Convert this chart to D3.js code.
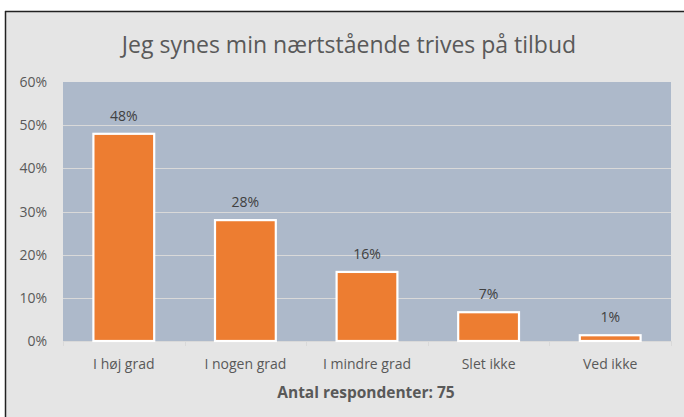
<!DOCTYPE html>
<html>
<head>
<meta charset="utf-8">
<script src="https://cdn.jsdelivr.net/npm/d3@7"></script>
<style>
  html, body { margin: 0; padding: 0; background: #fff; }
  svg { display: block; }
</style>
</head>
<body>
<div id="chart"></div>
<script>
// Data
const title = "Jeg synes min nærtstående trives på tilbud";
const footer = "Antal respondenter: 75";
const categories = ["I høj grad", "I nogen grad", "I mindre grad", "Slet ikke", "Ved ikke"];
const counts = [36, 21, 12, 5, 1];
const totalRespondents = 75;
const yTicks = [0, 0.1, 0.2, 0.3, 0.4, 0.5, 0.6];

const W = 684, H = 417;
const margin = { top: 82, right: 13, bottom: 76, left: 63 };
const width = W - margin.left - margin.right;
const height = H - margin.top - margin.bottom;

const svg = d3.select("#chart").append("svg")
    .attr("width", W)
    .attr("height", H);

// Frame / background
svg.append("rect")
    .attr("x", 5).attr("y", 11)
    .attr("width", W - 5).attr("height", H - 11)
    .attr("fill", "#e5e5e5");
svg.append("line")
    .attr("x1", 5.5).attr("x2", 5.5).attr("y1", 11).attr("y2", H)
    .attr("stroke", "#222").attr("stroke-width", 1.5);
svg.append("line")
    .attr("x1", 5).attr("x2", W).attr("y1", 11.5).attr("y2", 11.5)
    .attr("stroke", "#222").attr("stroke-width", 1.5);

svg.append("text")
    .attr("x", 349).attr("y", 53)
    .attr("text-anchor", "middle")
    .attr("font-family", "Open Sans, sans-serif")
    .attr("font-size", 23)
    .attr("fill", "#595959")
    .text(title);

const g = svg.append("g")
    .attr("transform", `translate(${margin.left},${margin.top})`);

const x = d3.scaleBand()
    .domain(categories)
    .range([0, width])
    .paddingInner(0.5)
    .paddingOuter(0.25);

const y = d3.scaleLinear()
    .domain([0, 0.6])
    .range([height, 0]);

// Plot area
g.append("rect")
    .attr("width", width)
    .attr("height", height)
    .attr("fill", "#adb9ca");

// Grid
g.selectAll(".grid")
    .data(yTicks.filter(d => d > 0 && d < 0.6))
    .enter().append("line")
    .attr("x1", 0).attr("x2", width)
    .attr("y1", d => Math.round(y(d)) + 0.5)
    .attr("y2", d => Math.round(y(d)) + 0.5)
    .attr("stroke", "#d9d9d9")
    .attr("stroke-width", 1.2);

// Y axis labels
g.selectAll(".ylab")
    .data(yTicks)
    .enter().append("text")
    .attr("x", -16)
    .attr("y", d => y(d) + 5)
    .attr("text-anchor", "end")
    .attr("font-family", "Open Sans, sans-serif")
    .attr("font-size", 14)
    .attr("fill", "#595959")
    .text(d3.format(".0%"));

// X axis line & ticks at category boundaries
g.append("line")
    .attr("x1", 0).attr("x2", width)
    .attr("y1", height + 0.5).attr("y2", height + 0.5)
    .attr("stroke", "#d9d9d9");
g.selectAll(".xtick")
    .data(d3.range(categories.length + 1))
    .enter().append("line")
    .attr("x1", i => Math.round(i * width / categories.length) + 0.5)
    .attr("x2", i => Math.round(i * width / categories.length) + 0.5)
    .attr("y1", height).attr("y2", height + 5)
    .attr("stroke", "#d9d9d9");

const pct = counts.map(c => c / totalRespondents);

// Bars
g.selectAll(".bar")
    .data(pct)
    .enter().append("rect")
    .attr("x", (d, i) => x(categories[i]))
    .attr("y", d => y(d))
    .attr("width", x.bandwidth())
    .attr("height", d => height - y(d))
    .attr("fill", "#ed7d31")
    .attr("stroke", "#fff")
    .attr("stroke-width", 2.2);

// Value labels
g.selectAll(".vlab")
    .data(pct)
    .enter().append("text")
    .attr("x", (d, i) => x(categories[i]) + x.bandwidth() / 2)
    .attr("y", d => y(d) - 13)
    .attr("text-anchor", "middle")
    .attr("font-family", "Open Sans, sans-serif")
    .attr("font-size", 14)
    .attr("fill", "#404040")
    .text(d => Math.round(d * 100) + "%");

// Category labels
g.selectAll(".xlab")
    .data(categories)
    .enter().append("text")
    .attr("x", d => x(d) + x.bandwidth() / 2)
    .attr("y", height + 28)
    .attr("text-anchor", "middle")
    .attr("font-family", "Open Sans, sans-serif")
    .attr("font-size", 14)
    .attr("fill", "#595959")
    .text(d => d);

svg.append("text")
    .attr("x", 366).attr("y", 398)
    .attr("text-anchor", "middle")
    .attr("font-family", "Open Sans, sans-serif")
    .attr("font-weight", "bold")
    .attr("font-size", 15.5)
    .attr("fill", "#595959")
    .text(footer);
</script>
</body>
</html>
